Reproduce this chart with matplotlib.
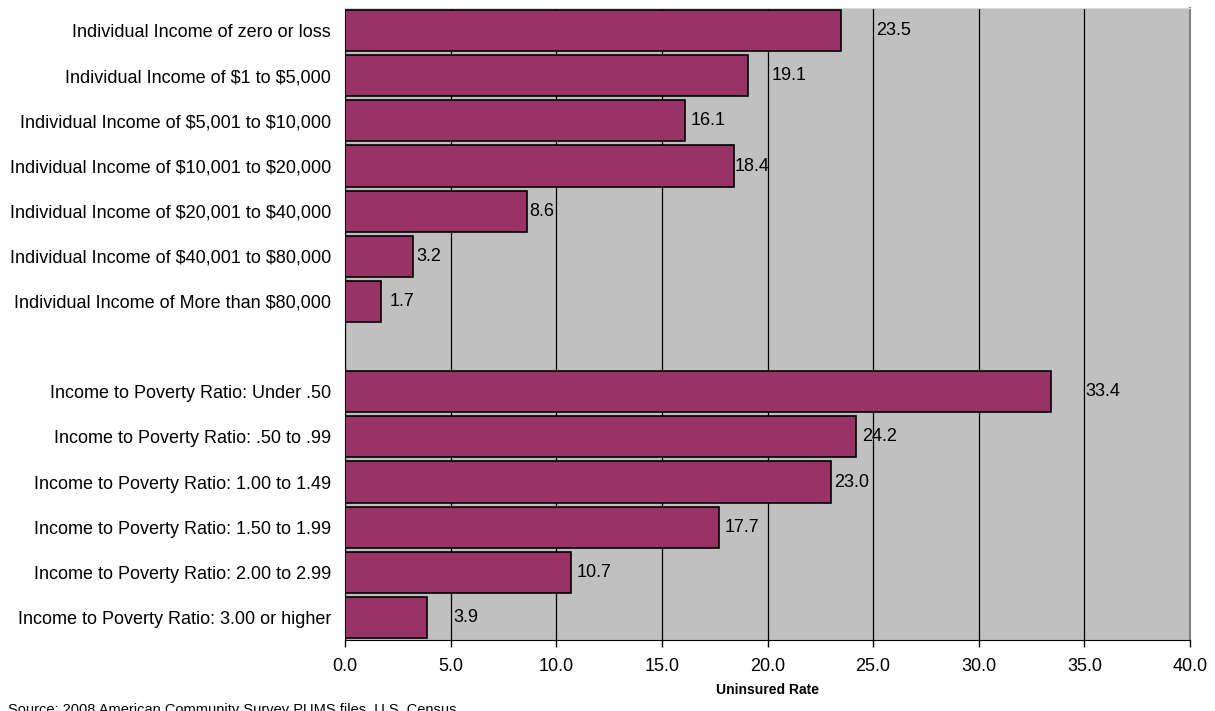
import matplotlib
matplotlib.use("Agg")
import matplotlib.pyplot as plt

categories = [
    "Individual Income of zero or loss",
    "Individual Income of $1 to $5,000",
    "Individual Income of $5,001 to $10,000",
    "Individual Income of $10,001 to $20,000",
    "Individual Income of $20,001 to $40,000",
    "Individual Income of $40,001 to $80,000",
    "Individual Income of More than $80,000",
    "",
    "Income to Poverty Ratio: Under .50",
    "Income to Poverty Ratio: .50 to .99",
    "Income to Poverty Ratio: 1.00 to 1.49",
    "Income to Poverty Ratio: 1.50 to 1.99",
    "Income to Poverty Ratio: 2.00 to 2.99",
    "Income to Poverty Ratio: 3.00 or higher",
]
values = [23.5, 19.1, 16.1, 18.4, 8.6, 3.2, 1.7, None,
          33.4, 24.2, 23.0, 17.7, 10.7, 3.9]
# label offsets from bar end (points), as placed in the original
label_pad = [25, 17, 4, 1, 2, 3, 6, 0, 25, 4, 2, 4, 4, 19]

plt.rcParams["font.family"] = ["Liberation Sans", "DejaVu Sans"]
plt.rcParams["text.parse_math"] = False
fig = plt.figure(figsize=(12.15, 7.11), dpi=100)
ax = fig.add_axes([345 / 1215, 1 - 640 / 711, 845 / 1215, 632 / 711])
ax.set_facecolor("#c0c0c0")

for i, (v, pad) in enumerate(zip(values, label_pad)):
    if v is None:
        continue
    ax.barh(i, v, height=0.91, color="#993366", edgecolor="black", lw=1.2, zorder=3)
    ax.annotate(f"{v:.1f}", (v, i), xytext=(pad, 0), textcoords="offset points",
                va="center", ha="left", fontsize=13, zorder=4)

ax.set_ylim(13.5, -0.5)
ax.set_xlim(0, 40)
ax.set_xticks(range(0, 41, 5))
ax.set_xticklabels([f"{t:.1f}" for t in range(0, 41, 5)], fontsize=13)
ax.set_yticks(range(len(categories)))
ax.set_yticklabels(categories, fontsize=13)
ax.tick_params(axis="y", length=0, pad=10)
ax.tick_params(axis="x", length=5, width=1, pad=8)
ax.xaxis.grid(True, color="black", lw=0.9, zorder=1)
ax.set_axisbelow(True)
ax.set_xlabel("Uninsured Rate", fontsize=10, fontweight="bold", labelpad=6)

ax.spines["left"].set_color("black")
ax.spines["bottom"].set_color("black")
ax.spines["top"].set_color("#d9d9d9")
ax.spines["right"].set_color("#808080")
ax.spines["right"].set_linewidth(1.5)

fig.text(8 / 1215, -0.008, "Source: 2008 American Community Survey PUMS files, U.S. Census",
         fontsize=10.5, ha="left", va="bottom")

fig.savefig("out.png", dpi=100)
